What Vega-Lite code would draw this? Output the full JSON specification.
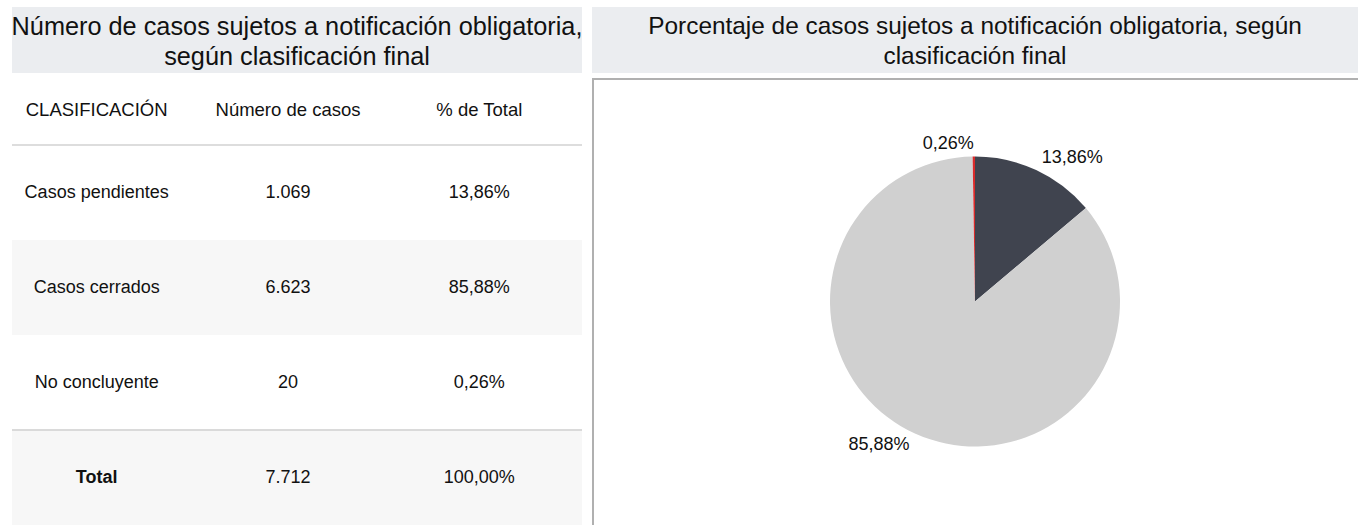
{
  "$schema": "https://vega.github.io/schema/vega-lite/v6.json",
  "padding": {"left": 11, "top": 7, "right": 0, "bottom": 0},
  "background": "white",
  "spacing": 8,
  "config": {
    "font": "Liberation Sans",
    "locale": {"number": {"decimal": ",", "thousands": ".", "grouping": [3], "currency": ["", " €"]}},
    "view": {"stroke": null}
  },
  "datasets": {
    "casos": [
      {"clasificacion": "Casos pendientes", "casos": 1069, "pct": 0.1386},
      {"clasificacion": "Casos cerrados", "casos": 6623, "pct": 0.8588},
      {"clasificacion": "No concluyente", "casos": 20, "pct": 0.0026},
      {"clasificacion": "Total", "casos": 7712, "pct": 1}
    ],
    "columnas": [{"col": "CLASIFICACIÓN"}, {"col": "Número de casos"}, {"col": "% de Total"}],
    "titulos": [
      {"panel": "tabla", "titulo": "Número de casos sujetos a notificación obligatoria,\nsegún clasificación final"},
      {"panel": "pie", "titulo": "Porcentaje de casos sujetos a notificación obligatoria, según\nclasificación final"}
    ]
  },
  "hconcat": [
    {
      "spacing": 0,
      "bounds": "flush",
      "vconcat": [
        {
          "width": 570, "height": 66,
          "view": {"fill": "#ebedf0", "stroke": null},
          "data": {"name": "titulos"},
          "transform": [{"filter": "datum.panel === 'tabla'"}],
          "mark": {"type": "text", "fontSize": 25.3, "lineBreak": "\n", "lineHeight": 30, "baseline": "middle", "dy": -13, "color": "#111"},
          "encoding": {"text": {"field": "titulo"}}
        },
        {
          "width": 570, "height": 72,
          "layer": [
            {
              "data": {"name": "columnas"},
              "mark": {"type": "text", "fontSize": 18.5, "color": "#111", "dy": 1},
              "encoding": {
                "x": {"field": "col", "type": "nominal", "sort": null,
                      "scale": {"domain": ["CLASIFICACIÓN", "Número de casos", "% de Total"], "range": [-11, 563], "paddingInner": 0, "paddingOuter": 0},
                      "axis": null},
                "text": {"field": "col"}
              }
            },
            {
              "data": {"values": [{}]},
              "mark": {"type": "rule", "color": "#d2d2d2", "strokeWidth": 1.5},
              "encoding": {"x": {"value": 0}, "x2": {"value": "width"}, "y": {"value": "height"}}
            }
          ]
        },
        {
          "width": 570, "height": 380,
          "data": {"name": "casos"},
          "encoding": {
            "y": {"field": "clasificacion", "type": "nominal", "sort": null,
                  "scale": {"domain": ["Casos pendientes", "Casos cerrados", "No concluyente", "Total"], "paddingInner": 0, "paddingOuter": 0},
                  "axis": null}
          },
          "layer": [
            {
              "transform": [{"filter": "datum.clasificacion === 'Casos cerrados' || datum.clasificacion === 'Total'"}],
              "mark": {"type": "bar", "color": "#f7f7f7"},
              "encoding": {"x": {"value": 0}, "x2": {"value": "width"}}
            },
            {
              "transform": [{"filter": "datum.clasificacion === 'Total'"}],
              "mark": {"type": "rule", "color": "#dadada", "strokeWidth": 2},
              "encoding": {
                "y": {"field": "clasificacion", "type": "nominal", "bandPosition": 0},
                "x": {"value": 0}, "x2": {"value": "width"}
              }
            },
            {
              "transform": [{"filter": "datum.clasificacion !== 'Total'"}],
              "mark": {"type": "text", "fontSize": 18, "color": "#111"},
              "encoding": {
                "x": {"datum": "CLASIFICACIÓN", "type": "nominal",
                      "scale": {"domain": ["CLASIFICACIÓN", "Número de casos", "% de Total"], "range": [-11, 563], "paddingInner": 0, "paddingOuter": 0},
                      "axis": null},
                "text": {"field": "clasificacion"}
              }
            },
            {
              "transform": [{"filter": "datum.clasificacion === 'Total'"}],
              "mark": {"type": "text", "fontSize": 18, "fontWeight": "bold", "color": "#111"},
              "encoding": {
                "x": {"datum": "CLASIFICACIÓN", "type": "nominal"},
                "text": {"field": "clasificacion"}
              }
            },
            {
              "mark": {"type": "text", "fontSize": 18, "color": "#111"},
              "encoding": {
                "x": {"datum": "Número de casos", "type": "nominal"},
                "text": {"field": "casos", "type": "quantitative", "format": ",d"}
              }
            },
            {
              "mark": {"type": "text", "fontSize": 18, "color": "#111"},
              "encoding": {
                "x": {"datum": "% de Total", "type": "nominal"},
                "text": {"field": "pct", "type": "quantitative", "format": ".2%"}
              }
            }
          ]
        }
      ]
    },
    {
      "spacing": 5,
      "bounds": "flush",
      "vconcat": [
        {
          "width": 766, "height": 66,
          "view": {"fill": "#ebedf0", "stroke": null},
          "data": {"name": "titulos"},
          "transform": [{"filter": "datum.panel === 'pie'"}],
          "mark": {"type": "text", "fontSize": 24.4, "lineBreak": "\n", "lineHeight": 30, "baseline": "middle", "dy": -13, "color": "#111"},
          "encoding": {"text": {"field": "titulo"}}
        },
        {
          "width": 766, "height": 447,
          "layer": [
            {
              "data": {"values": [{}]},
              "mark": {"type": "rule", "color": "#b0b0b0", "strokeWidth": 2},
              "encoding": {"x": {"value": 1}, "y": {"value": 0}, "y2": {"value": "height"}}
            },
            {
              "data": {"values": [{}]},
              "mark": {"type": "rule", "color": "#b0b0b0", "strokeWidth": 2},
              "encoding": {"x": {"value": 0}, "x2": {"value": "width"}, "y": {"value": 1}}
            },
            {
              "data": {"name": "casos"},
              "transform": [{"window": [{"op": "row_number", "as": "orden"}]}, {"filter": "datum.clasificacion !== 'Total'"}],
              "encoding": {
                "theta": {"field": "pct", "type": "quantitative", "stack": true},
                "order": {"field": "orden", "type": "quantitative"}
              },
              "layer": [
                {
                  "mark": {"type": "arc", "outerRadius": 145},
                  "encoding": {
                    "color": {"field": "clasificacion", "type": "nominal",
                              "scale": {"domain": ["Casos pendientes", "Casos cerrados", "No concluyente"], "range": ["#40444f", "#d0d0d0", "#d92b2b"]},
                              "legend": null}
                  }
                },
                {
                  "mark": {"type": "text", "radius": 158, "fontSize": 18, "align": "left", "baseline": "middle", "color": "#111"},
                  "encoding": {
                    "detail": {"field": "clasificacion", "type": "nominal"},
                    "text": {"field": "pct", "type": "quantitative", "format": ".2%"},
                    "opacity": {"condition": {"test": "datum.clasificacion === 'Casos pendientes'", "value": 1}, "value": 0}
                  }
                },
                {
                  "mark": {"type": "text", "radius": 158, "fontSize": 18, "align": "right", "baseline": "middle", "color": "#111"},
                  "encoding": {
                    "detail": {"field": "clasificacion", "type": "nominal"},
                    "text": {"field": "pct", "type": "quantitative", "format": ".2%"},
                    "opacity": {"condition": {"test": "datum.clasificacion !== 'Casos pendientes'", "value": 1}, "value": 0}
                  }
                }
              ]
            }
          ]
        }
      ]
    }
  ]
}
